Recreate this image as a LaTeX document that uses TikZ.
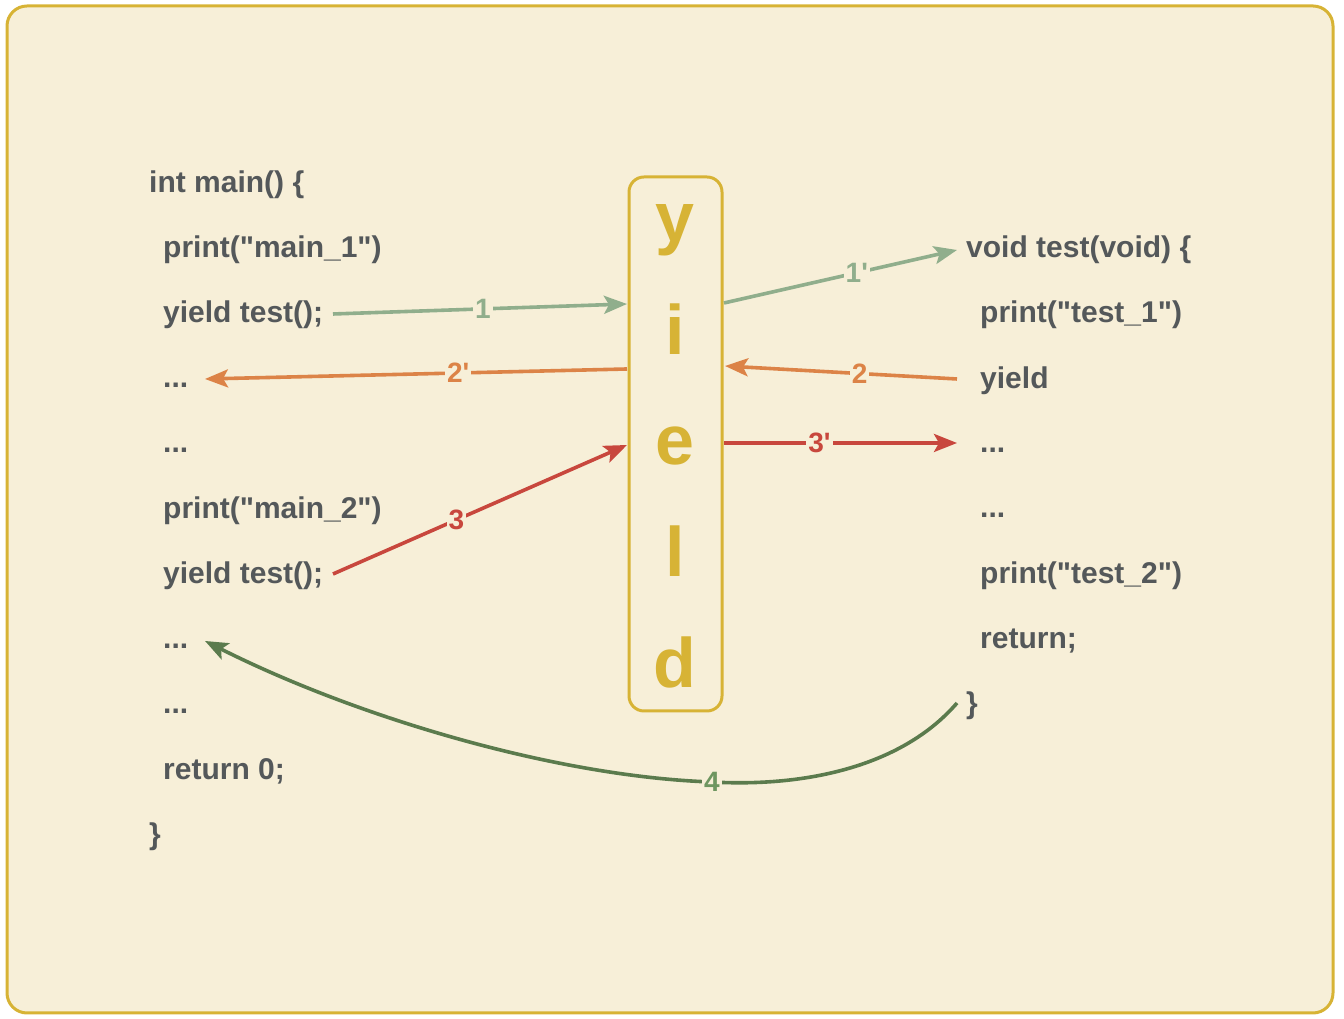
\documentclass[tikz,border=0pt]{standalone}
\usepackage{fontspec}
\setmainfont{Liberation Sans}[Ligatures=TeXOff]
\usetikzlibrary{arrows.meta}
\definecolor{bg}{HTML}{F7EFD8}
\definecolor{gold}{HTML}{D7B335}
\definecolor{txt}{HTML}{54585A}
\definecolor{cgreen}{HTML}{90AE8C}
\definecolor{corange}{HTML}{DC8347}
\definecolor{cred}{HTML}{C8473D}
\definecolor{cdark}{HTML}{5B7B4D}
\definecolor{clab}{HTML}{6E9660}
\begin{document}
\begin{tikzpicture}[x=1pt,y=1pt,
  code/.style={anchor=base west,inner sep=0pt,text=txt,font=\fontsize{30}{36}\selectfont\bfseries},
  ylet/.style={anchor=base,inner sep=0pt,text=gold,font=\fontsize{70}{80}\selectfont\bfseries},
  conn/.style={line width=3.6pt,-{Stealth[length=23pt,width=18pt,inset=5pt]}},
  lab/.style={fill=bg,inner sep=2pt,font=\fontsize{28}{30}\selectfont\bfseries}]
\useasboundingbox (0,0) rectangle (1344,1019);
\draw[gold,fill=bg,line width=3pt,rounded corners=20pt] (7,6) rectangle (1333,1013);
% left code
\node[code] (m0) at (149,826) {int main() \{};
\node[code] (m1) at (163,761) {print("main\_1")};
\node[code] (m2) at (163,696) {yield test();};
\node[code] (m3) at (163,631) {...};
\node[code] (m4) at (163,566) {...};
\node[code] (m5) at (163,500) {print("main\_2")};
\node[code] (m6) at (163,435) {yield test();};
\node[code] (m7) at (163,370) {...};
\node[code] (m8) at (163,305) {...};
\node[code] (m9) at (163,239) {return 0;};
\node[code] (m10) at (149,174) {\}};
% right code
\node[code] (t0) at (966,761) {void test(void) \{};
\node[code] (t1) at (980,696) {print("test\_1")};
\node[code] (t2) at (980,630) {yield};
\node[code] (t3) at (980,566) {...};
\node[code] (t4) at (980,501) {...};
\node[code] (t5) at (980,435) {print("test\_2")};
\node[code] (t6) at (980,370) {return;};
\node[code] (t7) at (966,305) {\}};
% yield box
\node[draw=gold,line width=3pt,rounded corners=15pt,minimum width=93pt,minimum height=534pt,inner sep=0pt] (yb) at (675.5,575) {};
\node[ylet] (ly) at (675,777) {y};
\node[ylet] (li) at (675,664) {i};
\node[ylet] (le) at (675,554) {e};
\node[ylet] (ll) at (675,442) {l};
\node[ylet] (ld) at (675,331) {d};
% connector ends
\coordinate (a1s) at (333,705);
\coordinate (a1e) at (627,715);
\coordinate (b1s) at (724,716);
\coordinate (b1e) at (957,769);
\coordinate (a2s) at (957,640);
\coordinate (a2e) at (725,653);
\coordinate (b2s) at (627,650);
\coordinate (b2e) at (205,640);
\coordinate (a3s) at (333,445);
\coordinate (a3e) at (627,574);
\coordinate (b3s) at (724,576);
\coordinate (b3e) at (957,576);
\coordinate (a4s) at (957,316);
\coordinate (a4m) at (712,237);
\coordinate (a4e) at (205,378);
% arrows
\draw[conn,cgreen] (a1s) -- node[lab,pos=0.51,text=cgreen]{1} (a1e);
\draw[conn,cgreen] (b1s) -- node[lab,pos=0.57,text=cgreen]{1'} (b1e);
\draw[conn,corange] (a2s) -- node[lab,pos=0.42,text=corange]{2} (a2e);
\draw[conn,corange] (b2s) -- node[lab,pos=0.40,text=corange]{2'} (b2e);
\draw[conn,cred] (a3s) -- node[lab,pos=0.42,text=cred]{3} (a3e);
\draw[conn,cred] (b3s) -- node[lab,pos=0.41,text=cred]{3'} (b3e);
\draw[conn,cdark] (a4s) .. controls (900,250) and (800,232) .. (a4m)
   .. controls (560,242) and (360,300) .. (a4e);
\node[lab,text=clab] (l4) at (a4m) {4};
\end{tikzpicture}
\end{document}
